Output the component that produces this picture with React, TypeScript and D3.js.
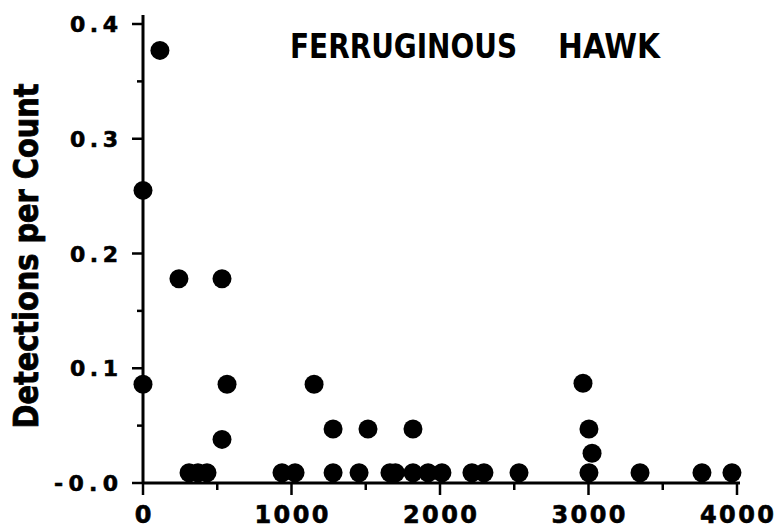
import React from "react";
import * as d3 from "d3";

const xValues = [114, 0, 0, 242, 532, 566, 532, 310, 370, 431, 936, 1024, 1152, 1280, 1280, 1455, 1515, 1663, 1700, 1818, 1818, 1920, 2013, 2215, 2296, 2532, 2963, 3003, 3024, 3003, 3347, 3764, 3966];
const yValues = [0.377, 0.255, 0.086, 0.178, 0.178, 0.086, 0.038, 0.009, 0.009, 0.009, 0.009, 0.009, 0.086, 0.047, 0.009, 0.009, 0.047, 0.009, 0.009, 0.047, 0.009, 0.009, 0.009, 0.009, 0.009, 0.009, 0.087, 0.047, 0.026, 0.009, 0.009, 0.009, 0.009];

const xMajorTicks = [0, 1000, 2000, 3000, 4000];
const xMinorTicks = [500, 1500, 2500, 3500];
const yMajorTicks = [0, 0.1, 0.2, 0.3, 0.4];
const yMinorTicks = [0.05, 0.15, 0.25, 0.35];
const yTickLabels = ["-0.0", "0.1", "0.2", "0.3", "0.4"];
const xTickLabels = ["0", "1000", "2000", "3000", "4000"];

const titleWords = ["FERRUGINOUS", "HAWK"];
const yAxisTitle = "Detections per Count";

export default function App() {
  const x = d3.scaleLinear().domain([0, 4000]).range([143, 737]);
  const y = d3.scaleLinear().domain([0, 0.4]).range([483, 24]);
  const points = xValues.map((v, i) => ({ x: v, y: yValues[i] }));
  const numFont = "'DejaVu Sans', sans-serif";
  const narrowFont = "'Liberation Sans Narrow', 'DejaVu Sans Condensed', sans-serif";

  return (
    <svg width={778} height={532} style={{ position: "absolute", left: 0, top: 0, background: "#fff" }}>
      {/* axes */}
      <line x1={x(0)} x2={x(4000) + 3} y1={y(0)} y2={y(0)} stroke="#000" strokeWidth={3} />
      <line x1={x(0)} x2={x(0)} y1={y(0)} y2={15} stroke="#000" strokeWidth={3} />
      {yMajorTicks.map((t) => (
        <line key={"ym" + t} x1={x(0) - 11} x2={x(0)} y1={y(t)} y2={y(t)} stroke="#000" strokeWidth={2.5} />
      ))}
      {yMinorTicks.map((t) => (
        <line key={"yn" + t} x1={x(0) - 6} x2={x(0)} y1={y(t)} y2={y(t)} stroke="#000" strokeWidth={2.5} />
      ))}
      {xMajorTicks.map((t) => (
        <line key={"xm" + t} x1={x(t)} x2={x(t)} y1={y(0)} y2={y(0) + 12} stroke="#000" strokeWidth={2.5} />
      ))}
      {xMinorTicks.map((t) => (
        <line key={"xn" + t} x1={x(t)} x2={x(t)} y1={y(0)} y2={y(0) + 7} stroke="#000" strokeWidth={2.5} />
      ))}
      {yMajorTicks.map((t, i) => (
        <text key={"yl" + t} x={118} y={y(t) + 8} textAnchor="end" fontFamily={numFont} fontWeight="bold" fontSize={22}
          textLength={yTickLabels[i].length === 4 ? 64 : 48} lengthAdjust="spacing" fill="#000" stroke="#000" strokeWidth={0.6}>
          {yTickLabels[i]}
        </text>
      ))}
      {xMajorTicks.map((t, i) => (
        <text key={"xl" + t} x={x(t)} y={523} textAnchor="middle" fontFamily={numFont} fontWeight="bold" fontSize={24}
          textLength={xTickLabels[i].length === 1 ? 16 : 74} lengthAdjust="spacing" fill="#000" stroke="#000" strokeWidth={0.6}>
          {xTickLabels[i]}
        </text>
      ))}
      {/* points */}
      {points.map((p, i) => (
        <circle key={i} cx={x(p.x)} cy={y(p.y)} r={9.5} fill="#000" />
      ))}
      {/* title */}
      <text x={290} y={58} fontFamily={narrowFont} fontWeight="bold" fontSize={34} textLength={227} lengthAdjust="spacingAndGlyphs" fill="#000">
        {titleWords[0]}
      </text>
      <text x={558} y={58} fontFamily={narrowFont} fontWeight="bold" fontSize={34} textLength={102} lengthAdjust="spacingAndGlyphs" fill="#000">
        {titleWords[1]}
      </text>
      {/* y axis title */}
      <text transform="translate(38,256) rotate(-90)" textAnchor="middle" fontFamily={narrowFont} fontWeight="bold" fontSize={34}
        textLength={345} lengthAdjust="spacingAndGlyphs" fill="#000" stroke="#000" strokeWidth={0.8}>
        {yAxisTitle}
      </text>
    </svg>
  );
}
